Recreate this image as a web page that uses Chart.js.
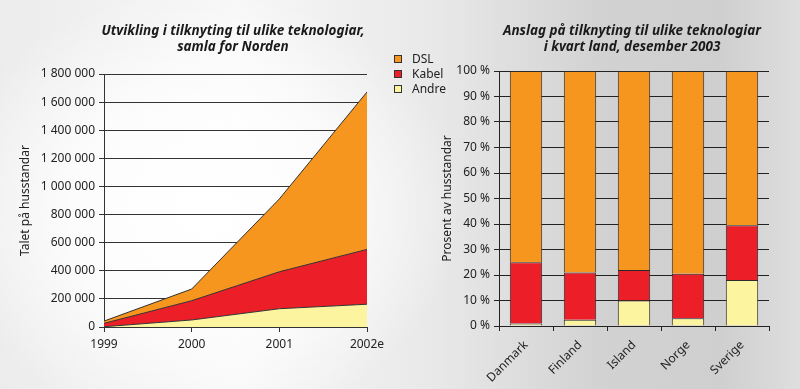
<!DOCTYPE html>
<html lang="no">
<head>
<meta charset="UTF-8">
<title>Tilknyting til ulike teknologiar</title>
<script src="https://cdn.jsdelivr.net/npm/chart.js"></script>
<style>
    html, body { margin: 0; padding: 0; }
    body {
        width: 800px; height: 389px; position: relative; overflow: hidden;
        font-family: "Noto Sans", sans-serif; color: #222;
        background:
            radial-gradient(ellipse 260px 220px at 200px 210px, rgba(255,255,255,1) 0%, rgba(255,255,255,0.8) 50%, rgba(255,255,255,0) 100%),
            linear-gradient(90deg, #ececec 0%, #f7f7f7 30%, #e8e8e8 55%, #d2d2d2 75%, #cfcfcf 90%, #dedede 100%);
    }
    .box { position: absolute; top: 0; height: 389px; }
    .title {
        position: absolute; top: 22px; width: 360px; text-align: center;
        font-weight: bold; font-style: italic; font-size: 13.5px; line-height: 16px; color: #1a1a1a;
    }
    #legend { position: absolute; left: 0; top: 0; width: 800px; height: 1px; z-index: 5; }
    .lg-box { position: absolute; left: 394px; width: 6px; height: 6px; border: 1px solid #333; }
    .lg-text { position: absolute; left: 412px; font-size: 12px; line-height: 15px; white-space: nowrap; }
</style>
</head>
<body>
    <div class="box" style="left:0; width:390px"><canvas id="areaCanvas"></canvas></div>
    <div class="box" style="left:400px; width:400px"><canvas id="barCanvas"></canvas></div>

    <div class="title" style="left:53px">Utvikling i tilknyting til ulike teknologiar,<br>samla for Norden</div>
    <div class="title" style="left:452px">Anslag på tilknyting til ulike teknologiar<br>i kvart land, desember 2003</div>
    <div id="legend"></div>

<script>
    // Left chart: households per technology, all Nordic countries
    const years = ['1999', '2000', '2001', '2002e'];
    const andreTotal = [2000, 50000, 130000, 162000];
    const kabelTotal = [24000, 137000, 263000, 390000];
    const dslTotal = [16000, 83000, 518000, 1120000];

    // Right chart: share per country, december 2003 (percent)
    const countries = ['Danmark', 'Finland', 'Island', 'Norge', 'Sverige'];
    const andrePct = [1, 2.5, 10, 3, 18];
    const kabelPct = [24, 18.5, 12, 17.5, 21.5];
    const dslPct = [75, 79, 78, 79.5, 60.5];

    const seriesNames = ['DSL', 'Kabel', 'Andre'];
    const colors = { DSL: '#f7961e', Kabel: '#ec1e27', Andre: '#fdf4a0' };

    Chart.defaults.font.family = '"Noto Sans", sans-serif';
    Chart.defaults.font.size = 12;
    Chart.defaults.color = '#222';
    Chart.defaults.animation = false;

    // legend shared by both charts
    const legend = document.getElementById('legend');
    seriesNames.forEach((name, i) => {
        const y = 52 + i * 15;
        const box = document.createElement('span');
        box.className = 'lg-box';
        box.style.top = (y + 3) + 'px';
        box.style.background = colors[name];
        const txt = document.createElement('span');
        txt.className = 'lg-text';
        txt.style.top = (y - 1) + 'px';
        txt.textContent = name;
        legend.appendChild(box);
        legend.appendChild(txt);
    });

    function spaced(v) {
        return String(v).replace(/\B(?=(\d{3})+(?!\d))/g, ' ');
    }

    function areaSet(label, data, fill) {
        return {
            label: label, data: data, fill: fill,
            backgroundColor: colors[label], borderColor: '#333', borderWidth: 1,
            pointRadius: 0, tension: 0
        };
    }

    new Chart(document.getElementById('areaCanvas'), {
        type: 'line',
        data: {
            labels: years,
            datasets: [
                areaSet('Andre', andreTotal, 'origin'),
                areaSet('Kabel', kabelTotal, '-1'),
                areaSet('DSL', dslTotal, '-1')
            ]
        },
        options: {
            responsive: true,
            maintainAspectRatio: false,
            layout: { padding: { top: 74, right: 23, bottom: 0, left: 0 } },
            plugins: { legend: { display: false }, tooltip: { enabled: false } },
            scales: {
                x: {
                    offset: false,
                    grid: { drawOnChartArea: false, color: '#333', tickLength: 5 },
                    border: { color: '#333' },
                    ticks: { padding: 5, maxRotation: 0 },
                    afterFit: s => { s.height = 62; }
                },
                y: {
                    stacked: true,
                    min: 0, max: 1800000,
                    ticks: { stepSize: 200000, padding: 4, callback: v => spaced(v) },
                    grid: { color: '#333', tickLength: 5 },
                    border: { color: '#333' },
                    title: { display: true, text: 'Talet på husstandar', padding: { top: 18, bottom: 0 } },
                    afterFit: s => { s.width = 104; }
                }
            }
        }
    });

    function barSet(label, data) {
        return {
            label: label, data: data,
            backgroundColor: colors[label], borderColor: '#2a2a2a', borderWidth: 1,
            barPercentage: 0.6, categoryPercentage: 1.0
        };
    }

    new Chart(document.getElementById('barCanvas'), {
        type: 'bar',
        data: {
            labels: countries,
            datasets: [
                barSet('Andre', andrePct),
                barSet('Kabel', kabelPct),
                barSet('DSL', dslPct)
            ]
        },
        options: {
            responsive: true,
            maintainAspectRatio: false,
            layout: { padding: { top: 71, right: 31, bottom: 0, left: 0 } },
            plugins: { legend: { display: false }, tooltip: { enabled: false } },
            scales: {
                x: {
                    stacked: true,
                    grid: { drawOnChartArea: false, color: '#222', tickLength: 5 },
                    border: { color: '#222' },
                    ticks: { minRotation: 45, maxRotation: 45, padding: 7 },
                    afterFit: s => { s.height = 63; }
                },
                y: {
                    stacked: true,
                    min: 0, max: 100,
                    ticks: { stepSize: 10, padding: 4, callback: v => v + ' %' },
                    grid: { color: '#222', tickLength: 5 },
                    border: { color: '#222' },
                    title: { display: true, text: 'Prosent av husstandar', padding: { top: 40, bottom: 0 } },
                    afterFit: s => { s.width = 99; }
                }
            }
        }
    });
</script>
</body>
</html>
